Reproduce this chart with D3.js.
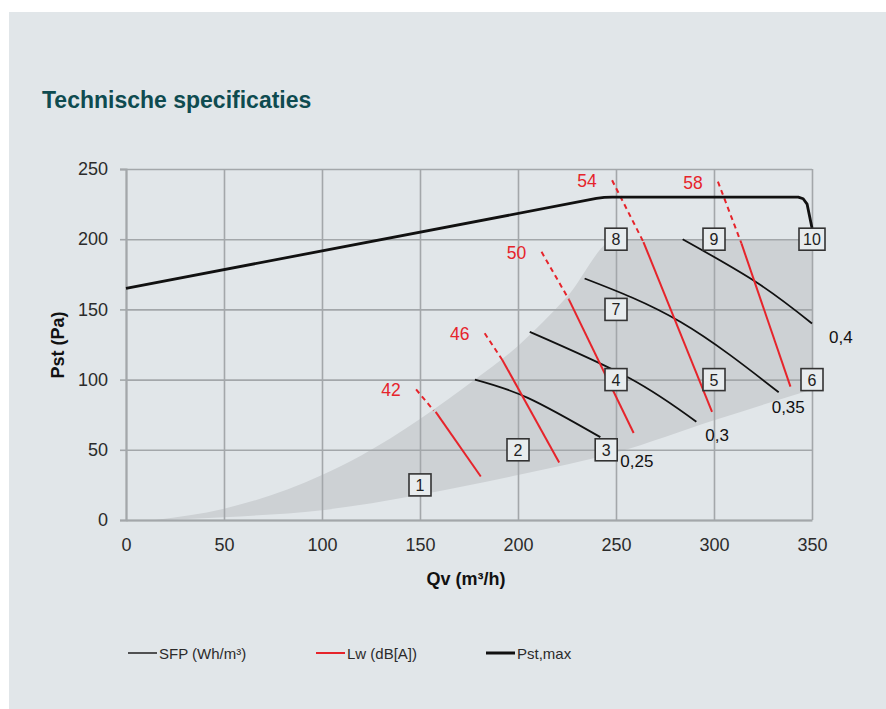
<!DOCTYPE html>
<html>
<head>
<meta charset="utf-8">
<script src="https://cdn.jsdelivr.net/npm/d3@7"></script>
<style>
  html, body { margin: 0; padding: 0; background: #ffffff; }
  svg { display: block; }
  text { font-family: "Liberation Sans", Arial, Helvetica, sans-serif; }
</style>
</head>
<body>
<svg id="chart" width="886" height="709"></svg>
<script>
// ---------------- data ----------------
const title = "Technische specificaties";
const xLabel = "Qv (m³/h)";
const yLabel = "Pst (Pa)";
const xTicks = [0, 50, 100, 150, 200, 250, 300, 350];
const yTicks = [0, 50, 100, 150, 200, 250];

// operating area (shaded): lower and upper boundary
const areaLower = [[18, 0], [50, 2], [100, 7], [150, 18], [200, 32], [250, 48], [300, 71], [350, 93]];
const areaUpper = [[15, 0], [50, 8], [100, 32], [120, 46], [150, 72], [178, 100], [200, 124], [225, 159], [250, 200], [350, 200]];

// maximum static pressure
const pstMax = [[0, 165], [240, 229], [244, 229.8], [248, 230], [343, 230], [345.5, 228.8], [347.5, 225], [350, 208]];

// SFP curves (Wh/m³)
const sfpNames = ["0,25", "0,3", "0,35", "0,4"];
const sfpCurves = [
  [[178, 100], [205, 87], [242, 59]],
  [[206, 134], [257, 101], [291, 70]],
  [[234, 172], [283, 141], [333, 91]],
  [[284, 200], [322, 169], [350, 140]]
];

// sound power lines Lw dB(A): dashed part then solid part
const lwNames = ["42", "46", "50", "54", "58"];
const lwDashed = [
  [[148, 93], [157, 78]],
  [[183, 133], [192, 114]],
  [[212, 191], [226, 157]],
  [[248, 242], [264, 198]],
  [[302, 241], [314, 197]]
];
const lwSolid = [
  [[158, 77], [181, 31]],
  [[192, 114], [221, 41]],
  [[226, 157], [259, 62]],
  [[264, 198], [299, 77]],
  [[314, 197], [339, 95]]
];

// numbered operating points
const pointNames = ["1", "2", "3", "4", "5", "6", "7", "8", "9", "10"];
const pointQv = [150, 200, 245, 250, 300, 350, 250, 250, 300, 350];
const pointPst = [25, 50, 50, 100, 100, 100, 150, 200, 200, 200];

const legendNames = ["SFP (Wh/m³)", "Lw (dB[A])", "Pst,max"];

// ---------------- layout / style ----------------
const svg = d3.select("#chart");
const C = {
  panel: "#e1e6e9", area: "#cdd1d4", grid: "#a3a7aa", red: "#e6242b",
  title: "#0e4b50", text: "#2b2b2b", black: "#111111"
};
const x = d3.scaleLinear().domain([0, 350]).range([126, 812]);
const y = d3.scaleLinear().domain([0, 250]).range([520, 169]);
const sfpLabelOffset = [[20, 30], [9, 19], [-7, 21], [17, 20]];

svg.append("rect").attr("x", 9).attr("y", 12).attr("width", 877).attr("height", 697).attr("fill", C.panel);

svg.append("text").attr("x", 42).attr("y", 108)
  .attr("font-size", 23).attr("font-weight", "bold").attr("fill", C.title)
  .text(title);

// shaded area
const curveLine = d3.line().x(d => x(d[0])).y(d => y(d[1])).curve(d3.curveMonotoneX);
const upperPath = curveLine(areaUpper);
const lowerRev = curveLine(areaLower.slice().reverse());
svg.append("path")
  .attr("d", upperPath + "L" + lowerRev.slice(1) + "Z")
  .attr("fill", C.area);

// grid (via axes)
const gGridY = svg.append("g").attr("transform", `translate(${x(0)},0)`)
  .call(d3.axisLeft(y).tickValues(yTicks).tickSize(-(x(350) - x(0))).tickFormat(""));
const gGridX = svg.append("g").attr("transform", `translate(0,${y(0)})`)
  .call(d3.axisBottom(x).tickValues(xTicks).tickSize(-(y(0) - y(250))).tickFormat(""));
[gGridY, gGridX].forEach(g => {
  g.select(".domain").remove();
  g.selectAll("line").attr("stroke", C.grid).attr("stroke-width", 1.6);
});

// axes with labels
const gY = svg.append("g").attr("transform", `translate(${x(0)},0)`)
  .call(d3.axisLeft(y).tickValues(yTicks).tickSize(6).tickPadding(12));
const gX = svg.append("g").attr("transform", `translate(0,${y(0)})`)
  .call(d3.axisBottom(x).tickValues(xTicks).tickSize(0).tickPadding(18));
[gY, gX].forEach(g => {
  g.select(".domain").attr("stroke", C.grid).attr("stroke-width", 2);
  g.selectAll("line").attr("stroke", C.grid).attr("stroke-width", 1.6);
  g.selectAll("text").attr("font-size", 18).attr("fill", C.text)
    .attr("font-family", "Liberation Sans, Arial, sans-serif");
});

svg.append("text").attr("x", x(175) - 3).attr("y", 585).attr("text-anchor", "middle")
  .attr("font-size", 18).attr("font-weight", "bold").attr("fill", C.black).text(xLabel);
svg.append("text").attr("transform", `translate(64,345) rotate(-90)`).attr("text-anchor", "middle")
  .attr("font-size", 18).attr("font-weight", "bold").attr("fill", C.black).text(yLabel);

const line = d3.line().x(d => x(d[0])).y(d => y(d[1]));
const smooth = d3.line().x(d => x(d[0])).y(d => y(d[1])).curve(d3.curveNatural);

// SFP curves
sfpCurves.forEach((pts, i) => {
  svg.append("path").attr("d", smooth(pts))
    .attr("fill", "none").attr("stroke", C.black).attr("stroke-width", 1.8);
  const last = pts[pts.length - 1];
  svg.append("text").attr("x", x(last[0]) + sfpLabelOffset[i][0]).attr("y", y(last[1]) + sfpLabelOffset[i][1])
    .attr("font-size", 17).attr("fill", C.black).text(sfpNames[i]);
});

// Lw lines
lwNames.forEach((name, i) => {
  svg.append("path").attr("d", line(lwDashed[i]))
    .attr("fill", "none").attr("stroke", C.red).attr("stroke-width", 2).attr("stroke-dasharray", "5,4");
  svg.append("path").attr("d", line(lwSolid[i]))
    .attr("fill", "none").attr("stroke", C.red).attr("stroke-width", 2);
  const s = lwDashed[i][0];
  svg.append("text").attr("x", x(s[0]) - 25).attr("y", y(s[1]) + 7).attr("text-anchor", "middle")
    .attr("font-size", 17.5).attr("fill", C.red).text(name);
});

// Pst,max
svg.append("path").attr("d", line(pstMax))
  .attr("fill", "none").attr("stroke", C.black).attr("stroke-width", 2.8)
  .attr("stroke-linejoin", "round");

// numbered boxes
pointNames.forEach((n, i) => {
  const w = n.length > 1 ? 26 : 22, h = 22;
  const cx = x(pointQv[i]), cy = y(pointPst[i]);
  svg.append("rect").attr("x", cx - w / 2).attr("y", cy - h / 2).attr("width", w).attr("height", h)
    .attr("fill", "#e8ecee").attr("stroke", "#333").attr("stroke-width", 1.6);
  svg.append("text").attr("x", cx).attr("y", cy + 6).attr("text-anchor", "middle")
    .attr("font-size", 16).attr("fill", "#222").text(n);
});

// legend
const legendX = [128, 316, 486];
const legendStroke = [C.text, C.red, C.black];
const legendWidth = [1.6, 2, 3];
legendNames.forEach((n, i) => {
  svg.append("line").attr("x1", legendX[i]).attr("x2", legendX[i] + 29).attr("y1", 653).attr("y2", 653)
    .attr("stroke", legendStroke[i]).attr("stroke-width", legendWidth[i]);
  svg.append("text").attr("x", legendX[i] + 31).attr("y", 659)
    .attr("font-size", 15).attr("fill", C.text).text(n);
});
</script>
</body>
</html>
